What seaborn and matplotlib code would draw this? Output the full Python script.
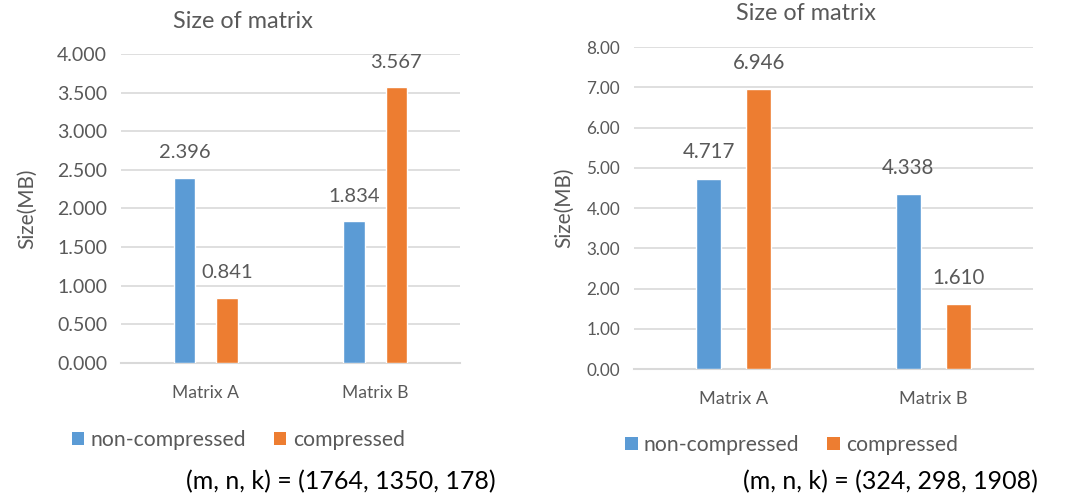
import matplotlib
matplotlib.use("Agg")
import matplotlib.pyplot as plt
from matplotlib.patches import Patch
import seaborn as sns
import pandas as pd

# Data
categories = ["Matrix A", "Matrix B"]
series = ["non-compressed", "compressed"]
left_noncomp = [2.396, 1.834]
left_comp = [0.841, 3.567]
right_noncomp = [4.717, 4.338]
right_comp = [6.946, 1.610]
left_caption = "(m, n, k) = (1764, 1350, 178)"
right_caption = "(m, n, k) = (324, 298, 1908)"

colors = ["#5B9BD5", "#ED7D31"]
grey = "#595959"
grid_c = "#D9D9D9"

sns.set_style("white")
plt.rcParams["font.family"] = ["Lato", "DejaVu Sans"]

fig = plt.figure(figsize=(10.68, 4.94), dpi=100)
ax1 = fig.add_axes([0.1133, 0.2652, 0.3174, 0.6255])
ax2 = fig.add_axes([0.5936, 0.2530, 0.3736, 0.6518])


def draw(ax, noncomp, comp, ymax, step, tickfmt, tick_fs, lab_fs, cat_fs, title_x, ylabel_x):
    df = pd.DataFrame({
        "matrix": categories * 2,
        "series": [series[0]] * 2 + [series[1]] * 2,
        "size": noncomp + comp,
    })
    sns.barplot(data=df, x="matrix", y="size", hue="series", palette=colors,
                width=0.5, gap=0.5, saturation=1, legend=False, ax=ax, zorder=3)
    for cont in ax.containers:
        ax.bar_label(cont, fmt="%.3f", padding=12, fontsize=lab_fs, color=grey)
    ax.set_xlim(-0.5, 1.5)
    ax.set_ylim(0, ymax)
    yt = [i * step for i in range(int(round(ymax / step)) + 1)]
    ax.set_yticks(yt)
    ax.set_yticklabels([tickfmt % v for v in yt], fontsize=tick_fs, color=grey)
    ax.tick_params(axis="x", labelsize=cat_fs, labelcolor=grey, length=0, pad=16)
    ax.tick_params(axis="y", length=0, pad=10)
    ax.yaxis.grid(True, color=grid_c, lw=1.2, zorder=0)
    ax.set_axisbelow(True)
    for s in ["top", "right", "left"]:
        ax.spines[s].set_visible(False)
    ax.spines["bottom"].set_color(grid_c)
    ax.spines["bottom"].set_linewidth(1.5)
    ax.set_xlabel("")
    ax.set_ylabel("Size(MB)", fontsize=15, color=grey)
    ax.yaxis.set_label_coords(ylabel_x, 0.5)
    ax.set_title("Size of matrix", fontsize=16.8, color=grey, x=title_x, y=1.084,
                 va="baseline", pad=0)


draw(ax1, left_noncomp, left_comp, 4.0, 0.5, "%.3f", 14, 14.5, 12.6, 0.36, -0.248)
draw(ax2, right_noncomp, right_comp, 8.0, 1.0, "%.2f", 12.3, 14.8, 13.1, 0.431, -0.150)

handles = [Patch(facecolor=c, edgecolor="none") for c in colors]
for cx, cy in [(0.223, 0.109), (0.741, 0.099)]:
    leg = fig.legend(handles, series, loc="center", bbox_to_anchor=(cx, cy), ncol=2,
                     frameon=False, handlelength=0.6, handleheight=0.6,
                     handletextpad=0.3, columnspacing=1.3, fontsize=15.2)
    for t in leg.get_texts():
        t.set_color(grey)

fig.text(0.319, 0.026, left_caption, fontsize=18, color="black", ha="center", va="center")
fig.text(0.834, 0.026, right_caption, fontsize=18, color="black", ha="center", va="center")

fig.savefig("out.png", dpi=100)
